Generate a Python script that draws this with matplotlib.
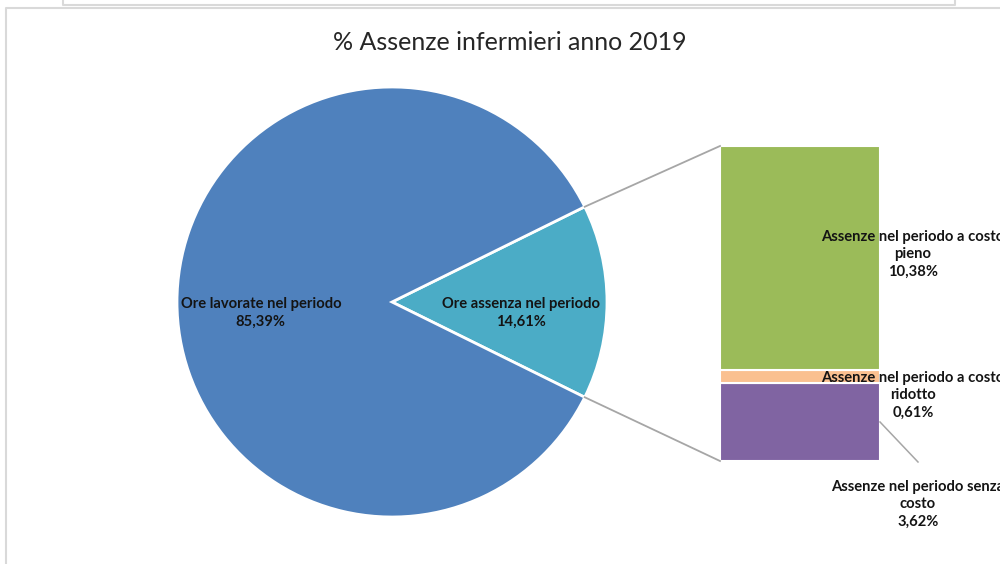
import numpy as np
import matplotlib.pyplot as plt
from matplotlib.patches import Rectangle

plt.rcParams['font.family'] = ['Lato', 'DejaVu Sans']

# Pie: worked hours vs absence hours
pie_labels = ['Ore assenza nel periodo', 'Ore lavorate nel periodo']
pie_values = [14.61, 85.39]
pie_colors = ['#4bacc6', '#4f81bd']

# Bar: breakdown of the absence slice (bottom to top)
bar_labels = ['Assenze nel periodo senza\ncosto',
              'Assenze nel periodo a costo\nridotto',
              'Assenze nel periodo a costo\npieno']
bar_values = [3.62, 0.61, 10.38]
bar_colors = ['#8064a2', '#fac090', '#9bbb59']

title = '% Assenze infermieri anno 2019'

fig = plt.figure(figsize=(10, 5.64), dpi=100)
ax = fig.add_axes([0, 0, 1, 1])

H = 564
cx, cy, r = 392, H - 302, 215
lab = dict(ha='center', va='center', fontsize=10.6, fontweight='bold',
           color='#141414', linespacing=1.3)

half = pie_values[0] / 100 * 180
wedges, _ = ax.pie(pie_values, colors=pie_colors, startangle=-half,
                   center=(cx, cy), radius=r,
                   wedgeprops=dict(edgecolor='white', linewidth=2))

def pct(v):
    return f'{v:.2f}%'.replace('.', ',')

ax.text(cx - 0.61 * r, cy - 11, pie_labels[1] + '\n' + pct(pie_values[1]), **lab)
ax.text(cx + 0.60 * r, cy - 11, pie_labels[0] + '\n' + pct(pie_values[0]), **lab)

# stacked bar for the absence slice
bx, bw, by, bh = 720, 160, H - 461, 315
scale = bh / sum(bar_values)
bottom = by
tops = []
for v, c in zip(bar_values, bar_colors):
    ax.add_patch(Rectangle((bx, bottom), bw, v * scale, facecolor=c,
                           edgecolor='white', linewidth=1.5))
    tops.append((bottom, bottom + v * scale))
    bottom += v * scale

# connector lines from the slice edges to the bar
a = np.deg2rad(half)
ax.plot([cx + r * np.cos(a), bx], [cy + r * np.sin(a), by + bh],
        color='#a6a6a6', lw=1.3)
ax.plot([cx + r * np.cos(-a), bx], [cy + r * np.sin(-a), by],
        color='#a6a6a6', lw=1.3)

# bar labels
lx = 913
ax.text(lx, H - 254, bar_labels[2] + '\n' + pct(bar_values[2]), **lab)
ax.text(lx, H - 395, bar_labels[1] + '\n' + pct(bar_values[1]), **lab)
ax.text(lx + 5, H - 504, bar_labels[0] + '\n' + pct(bar_values[0]), **lab)
# leader line for the purple segment label
mid = (tops[0][0] + tops[0][1]) / 2
ax.plot([bx + bw, 918], [mid, H - 462], color='#a6a6a6', lw=1.1)

ax.text(510, H - 42, title, ha='center', va='center', fontsize=18,
        color='#262626')

# chart area border and the box above it
ax.plot([6, 6, 1000], [0, H - 8, H - 8], color='#d9d9d9', lw=1.5)
ax.plot([63, 63, 955, 955], [H, H - 5, H - 5, H], color='#d9d9d9', lw=1.5)

ax.set_xlim(0, 1000)
ax.set_ylim(0, H)
ax.set_aspect('auto')
ax.axis('off')

fig.savefig('out.png', dpi=100)
